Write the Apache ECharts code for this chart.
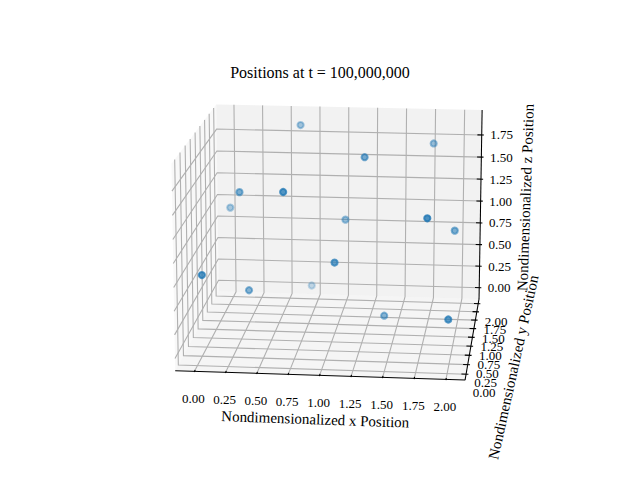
<!DOCTYPE html>
<html>
<head>
<meta charset="utf-8">
<script src="https://cdn.jsdelivr.net/npm/echarts@6/dist/echarts.min.js"></script>
<style>
html,body{margin:0;padding:0;background:#ffffff;}
#chart{width:640px;height:480px;}
</style>
</head>
<body>
<div id="chart"></div>
<script>
// ---------------- data ----------------
const titleText = 'Positions at t = 100,000,000';
const xLabelText = 'Nondimensionalized x Position';
const yLabelText = 'Nondimensionalized y Position';
const zLabelText = 'Nondimensionalized z Position';

const xPos = [0.63, 1.77, 1.25, 0.22, 0.67, 0.04, 1.05, 1.82, 1.99, 1.06, 0.04, 0.30, 0.70, 1.42, 1.99];
const yPos = [1.74, 1.63, 0.95, 0.92, 0.23, 1.60, 1.38, 0.15, 1.02, 0.41, 0.04, 0.86, 1.93, 0.92, 0.24];
const zPos = [1.93, 1.79, 1.82, 1.42, 1.65, 1.03, 1.00, 1.44, 1.03, 0.86, 0.82, 0.37, 0.05, 0.11, 0.35];

const xTicks = [0, 0.25, 0.5, 0.75, 1.0, 1.25, 1.5, 1.75, 2.0];
const yTicks = [0, 0.25, 0.5, 0.75, 1.0, 1.25, 1.5, 1.75, 2.0];
const zTicks = [0, 0.25, 0.5, 0.75, 1.0, 1.25, 1.5, 1.75];

const xRange = [-0.155, 2.15];
const yRange = [-0.15, 2.15];
const zRange = [-0.131, 2.03];

// ---------------- view / projection (matplotlib-like perspective) ----------------
const ELEV = 15, AZIM = -84, DIST = 10;
const BOX = [4, 4, 3].map(v => v * 1.8294640721620434 / Math.sqrt(41));
const er = ELEV * Math.PI / 180, ar = AZIM * Math.PI / 180;
const U = [-Math.sin(ar), Math.cos(ar), 0];
const V = [-Math.sin(er) * Math.cos(ar), -Math.sin(er) * Math.sin(ar), Math.cos(er)];
const W = [Math.cos(er) * Math.cos(ar), Math.cos(er) * Math.sin(ar), Math.sin(er)];
const LIM = [xRange, yRange, zRange];
function dot(a, b) { return a[0] * b[0] + a[1] * b[1] + a[2] * b[2]; }
function world(p) { return p.map((v, i) => (v - LIM[i][0]) / (LIM[i][1] - LIM[i][0]) * BOX[i] - BOX[i] / 2); }
function proj(p) {
  const q = world(p);
  const den = DIST - dot(W, q);
  return [dot(U, q) / den, dot(V, q) / den, den];
}
function P(x, y, z) { const r = proj([x, y, z]); return [r[0], r[1]]; }

// screen scale of projected units
const SX = 2440, SY = 2385, CX = 334.5, CY = 235.4;

const [x0, x1] = xRange, [y0, y1] = yRange, [z0, z1] = zRange;

// panes
const panes = [
  { pts: [P(x0, y0, z0), P(x0, y1, z0), P(x0, y1, z1), P(x0, y0, z1)], fill: 'rgba(242,242,242,0.5)' },
  { pts: [P(x0, y1, z0), P(x1, y1, z0), P(x1, y1, z1), P(x0, y1, z1)], fill: 'rgba(230,230,230,0.5)' },
  { pts: [P(x0, y0, z0), P(x1, y0, z0), P(x1, y1, z0), P(x0, y1, z0)], fill: 'rgba(236,236,236,0.5)' }
];

// grid lines
const gridLines = [];
xTicks.forEach(t => gridLines.push([P(t, y0, z0), P(t, y1, z0), P(t, y1, z1)]));
yTicks.forEach(t => gridLines.push([P(x0, t, z1), P(x0, t, z0), P(x1, t, z0)]));
zTicks.forEach(t => gridLines.push([P(x1, y1, t), P(x0, y1, t), P(x0, y0, t)]));

// axis lines
const axisLines = [
  [P(x0, y0, z0), P(x1, y0, z0)],
  [P(x1, y0, z0), P(x1, y1, z0)],
  [P(x1, y1, z0), P(x1, y1, z1)]
];

// tick marks
const dyOut = (y1 - y0) / 125, dyIn = (y1 - y0) / 62.5;
const dxOut = (x1 - x0) / 125, dxIn = (x1 - x0) / 62.5;
const tickLines = [];
xTicks.forEach(t => tickLines.push([P(t, y0 - dyOut, z0), P(t, y0 + dyIn, z0)]));
yTicks.forEach(t => tickLines.push([P(x1 + dxOut, t, z0), P(x1 - dxIn, t, z0)]));
zTicks.forEach(t => tickLines.push([P(x1 + dxOut, y1, t), P(x1 - dxIn, y1, t)]));

// tick labels (anchor = projected tick, pixel offsets)
const tickLabels = [];
xTicks.forEach(t => tickLabels.push({ p: P(t, y0, z0), dx: -1, dy: 27, text: t.toFixed(2) }));
yTicks.forEach(t => tickLabels.push({ p: P(x1, t, z0), dx: 18, dy: 18, text: t.toFixed(2) }));
zTicks.forEach(t => tickLabels.push({ p: P(x1, y1, t), dx: 20, dy: 0, text: t.toFixed(2) }));

// axis labels
const xm = (x0 + x1) / 2, ym = (y0 + y1) / 2, zm = (z0 + z1) / 2;
const axisLabels = [
  { p: P(xm, y0, z0), dx: -4, dy: 44, rot: -2, text: xLabelText },
  { p: P(x1, ym, z0), dx: 41, dy: 30, rot: 77.5, text: yLabelText },
  { p: P(x1, y1, zm), dx: 45, dy: -8, rot: 88, text: zLabelText }
];

// scatter points with depth shading
const pts = xPos.map((x, i) => { const r = proj([x, yPos[i], zPos[i]]); return { px: r[0], py: r[1], den: r[2] }; });
const dMin = Math.min(...pts.map(p => p.den)), dMax = Math.max(...pts.map(p => p.den));
pts.forEach(p => { p.alpha = 1 - 0.7 * (p.den - dMin) / (dMax - dMin); });
pts.sort((a, b) => b.den - a.den);
const scatterData = pts.map(p => {
  const c = 'rgba(31,119,180,' + p.alpha.toFixed(3) + ')';
  return { value: [p.px, p.py], itemStyle: { color: c, borderColor: c, borderWidth: 2 } };
});

// ---------------- chart ----------------
const SERIF = '"Liberation Serif", "Times New Roman", serif';

function lineSeries(lines, stroke, width, z) {
  return {
    type: 'custom', coordinateSystem: 'cartesian2d', silent: true, clip: false, z: z,
    animation: false,
    data: lines.map(l => l[0]),
    encode: { x: 0, y: 1 },
    renderItem: (params, api) => ({
      type: 'polyline',
      shape: { points: lines[params.dataIndex].map(q => api.coord(q)) },
      style: { stroke: stroke, lineWidth: width, fill: null }
    })
  };
}

const option = {
  animation: false,
  backgroundColor: '#ffffff',
  title: {
    text: titleText, left: 'center', top: 64, padding: 0,
    textStyle: { fontFamily: SERIF, fontSize: 16, fontWeight: 'normal', color: '#000' }
  },
  grid: { left: 0, right: 0, top: 0, bottom: 0 },
  xAxis: { type: 'value', min: -CX / SX, max: (640 - CX) / SX, show: false },
  yAxis: { type: 'value', min: (CY - 480) / SY, max: CY / SY, show: false },
  series: [
    {
      type: 'custom', coordinateSystem: 'cartesian2d', silent: true, clip: false, z: 1,
      animation: false,
      data: panes.map(p => p.pts[0]),
      encode: { x: 0, y: 1 },
      renderItem: (params, api) => ({
        type: 'polygon',
        shape: { points: panes[params.dataIndex].pts.map(q => api.coord(q)) },
        style: { fill: panes[params.dataIndex].fill, stroke: null }
      })
    },
    lineSeries(gridLines, '#b0b0b0', 1.1, 2),
    lineSeries(axisLines, '#000000', 1.05, 3),
    lineSeries(tickLines, '#000000', 1.1, 3),
    {
      type: 'custom', coordinateSystem: 'cartesian2d', silent: true, clip: false, z: 4,
      animation: false,
      data: tickLabels.map(t => t.p),
      encode: { x: 0, y: 1 },
      renderItem: (params, api) => {
        const t = tickLabels[params.dataIndex];
        const c = api.coord(t.p);
        return {
          type: 'text', x: c[0] + t.dx, y: c[1] + t.dy,
          style: { text: t.text, fill: '#000', font: '13px ' + SERIF, align: 'center', verticalAlign: 'middle' }
        };
      }
    },
    {
      type: 'custom', coordinateSystem: 'cartesian2d', silent: true, clip: false, z: 4,
      animation: false,
      data: axisLabels.map(t => t.p),
      encode: { x: 0, y: 1 },
      renderItem: (params, api) => {
        const t = axisLabels[params.dataIndex];
        const c = api.coord(t.p);
        return {
          type: 'text', x: c[0] + t.dx, y: c[1] + t.dy, rotation: t.rot * Math.PI / 180,
          style: { text: t.text, fill: '#000', font: '15px ' + SERIF, align: 'center', verticalAlign: 'middle' }
        };
      }
    },
    {
      type: 'scatter', z: 5, silent: true, animation: false,
      symbol: 'circle', symbolSize: 6.2,
      data: scatterData
    }
  ]
};

const chart = echarts.init(document.getElementById('chart'), null, { renderer: 'svg', width: 640, height: 480 });
chart.setOption(option);
</script>
</body>
</html>
